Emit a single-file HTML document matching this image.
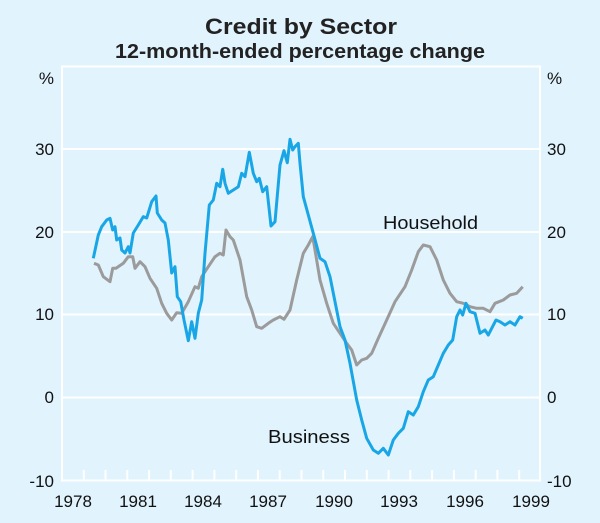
<!DOCTYPE html>
<html><head><meta charset="utf-8"><style>
html,body{margin:0;padding:0;background:#e1f3fd;}
svg{display:block;font-family:"Liberation Sans",Arial,sans-serif;}
</style></head><body>
<svg width="600" height="523" viewBox="0 0 600 523" xmlns="http://www.w3.org/2000/svg">
<rect width="600" height="523" fill="#e1f3fd"/>
<text x="301" y="34" font-size="22" font-weight="bold" text-anchor="middle" fill="#222" textLength="192" lengthAdjust="spacingAndGlyphs">Credit by Sector</text>
<text x="300" y="58" font-size="20" font-weight="bold" text-anchor="middle" fill="#222" textLength="370" lengthAdjust="spacingAndGlyphs">12-month-ended percentage change</text>
<g stroke="#fff" stroke-width="2" fill="none">
<rect x="62" y="66.5" width="478" height="414"/>
<line x1="62" y1="149" x2="540" y2="149"/>
<line x1="62" y1="232" x2="540" y2="232"/>
<line x1="62" y1="314.5" x2="540" y2="314.5"/>
<line x1="62" y1="397.5" x2="540" y2="397.5"/>
<path d="M83.8 481V470M105.5 481V470M127.3 481V470M149.1 481V470M170.8 481V470M192.6 481V470M214.4 481V470M236.2 481V470M257.9 481V470M279.7 481V470M301.5 481V470M323.3 481V470M345 481V470M366.8 481V470M388.6 481V470M410.3 481V470M432.1 481V470M453.9 481V470M475.7 481V470M497.4 481V470M519.2 481V470"/>
</g>
<g font-size="17" fill="#111">
<text x="54" y="84" text-anchor="end">%</text>
<text x="54" y="155" text-anchor="end">30</text>
<text x="54" y="238" text-anchor="end">20</text>
<text x="54" y="320" text-anchor="end">10</text>
<text x="54" y="403" text-anchor="end">0</text>
<text x="54" y="487" text-anchor="end">-10</text>
<text x="547" y="84">%</text>
<text x="547" y="155">30</text>
<text x="547" y="238">20</text>
<text x="547" y="320">10</text>
<text x="547" y="403">0</text>
<text x="547" y="487">-10</text>
<g text-anchor="middle">
<text x="73" y="507">1978</text><text x="138" y="507">1981</text><text x="203" y="507">1984</text><text x="268" y="507">1987</text><text x="334" y="507">1990</text><text x="399" y="507">1993</text><text x="465" y="507">1996</text><text x="531" y="507">1999</text>
</g>
<text x="383" y="229" font-size="18" textLength="95" lengthAdjust="spacingAndGlyphs">Household</text>
<text x="268" y="443" font-size="18" textLength="82" lengthAdjust="spacingAndGlyphs">Business</text>
</g>
<polyline fill="none" stroke="#9b9b9b" stroke-width="3" stroke-linejoin="round" points="94,263.3 98.3,265 103.3,276.7 110,281.7 112.7,268.3 116,268.3 123.3,263.3 128.3,256.7 132.7,256.7 135,268.3 140,261.7 145,266.7 150,278.3 156.7,288.3 161.7,303.3 166.7,313.3 171.7,320 176.7,312.7 181.7,313.3 188.3,301.7 195,286.7 198.3,288.3 201.7,276.7 208.3,266.7 215,256.7 220,253.3 223.3,255 226,230 230,236.7 233.3,240 240,260 246.7,296.7 251.7,310 256.7,326.7 261.7,328.3 268.3,323.3 273.3,320 280,316.7 284,319.3 290,310 296.7,280 303.3,253.3 308.3,245 312.7,236.7 315,250 320,280 326.7,303.3 333.3,323.3 340,333.3 346.7,343.3 351.7,350 356.7,365 361.7,360 366.7,358.3 371.7,353.3 378.3,338.3 386.7,320 395,301.7 405,286.7 411.7,270 418.3,251.7 423.3,245 430,246.7 436.7,260 443.3,280 450,293.3 456.7,301.7 463.3,303.3 470,306.7 476.7,308.3 483.3,308.3 490,311.7 495,303.3 503.3,300 510,295 516.7,293.3 522.7,286.7"/>
<polyline fill="none" stroke="#19a6e6" stroke-width="3" stroke-linejoin="round" points="93.3,258.3 98.3,235 101.7,226.7 106.7,220 110,218.3 112.7,230 115,226.7 116.7,240 120,238 121.7,250 125,253 128.3,246.7 130,253 133.3,233 138.3,225 143.3,216.7 146.7,218 151.7,201.7 156,196 157.3,213 161.7,220 165,223 168.3,240 171.7,273 175,266.7 177.3,296.7 180.7,301.7 184,320 188.3,340.7 191.7,321.7 195,338.3 198.3,313.3 201.7,300 205,253.3 209.3,205 213.3,200 216.7,183.3 220,186.7 222.7,169.3 225,183.3 228.3,193.3 233.3,190 238.3,186.7 241.7,173.3 245,176.7 249.3,152.3 253.3,173.3 256.7,181.7 259.3,178.3 262.7,191.7 266.7,186.7 271,226 275,221.7 280,165 284,150.7 287.3,162.7 290,139.3 292.7,150 295,146.7 298.3,143.3 300,163.3 303.3,196.7 308.3,215 313.3,233.3 320,258.3 325,261.7 330,276.7 335,301.7 340,326.7 345,340 350,363.3 356.7,400 361.7,420 366.7,438.3 373.3,450 378.3,453.3 383.3,448.3 388.3,455 393.3,440 398.3,433.3 403.3,428.3 408.3,411.7 413.3,415 418.3,406.7 423.3,391.7 428.3,380 433.3,376.7 438.3,365 443.3,353.3 448.3,345 452.7,340 456.7,316.7 460,310 462.7,315 466,303.3 470,311.7 475,313.3 480,333.3 485,330 488.3,335 491.7,328.3 496,320 500,321.7 505,325 510,321.7 515,325 520,316.7 522.7,318.3"/>
</svg>
</body></html>
